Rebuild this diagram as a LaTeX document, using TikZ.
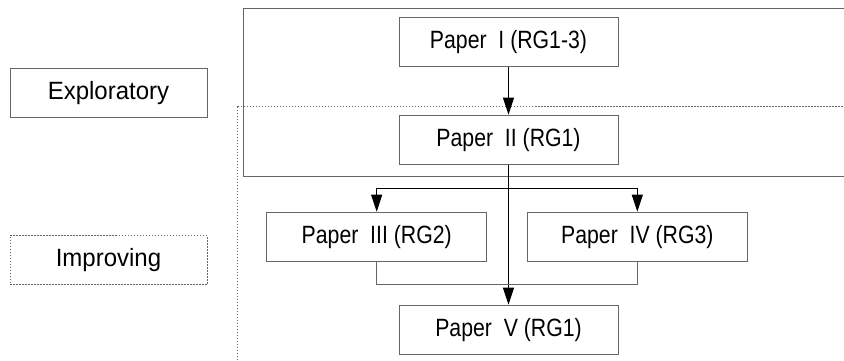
\documentclass[tikz,border=0pt]{standalone}
\usepackage{fontspec}
\setmainfont{Liberation Sans}
\newfontfamily\paperfont[FakeStretch=0.85]{Liberation Sans}
\newfontfamily\phasefont[FakeStretch=0.96]{Liberation Sans}
\usetikzlibrary{positioning,arrows.meta}

\tikzset{
  paper/.style={draw=black!60, line width=1pt, minimum width=219pt, minimum height=49pt, inner sep=0pt, font=\paperfont\fontsize{25}{30}\selectfont},
  phase/.style={draw=black!60, line width=1pt, minimum width=197pt, minimum height=49pt, inner sep=0pt, font=\phasefont\fontsize{25}{30}\selectfont},
  dots/.style={dash pattern=on 1.5pt off 1.5pt},
  link/.style={line width=1pt, -{Triangle[length=17pt,width=11pt]}},
  frameline/.style={line width=1pt, black!60},
}

\begin{document}
\begin{tikzpicture}[x=1pt,y=-1pt]
\useasboundingbox (0,0) rectangle (844,361);
\clip (0,0) rectangle (844,361);
% group frames, cut at the right edge
\draw[frameline] (243.5,9) rectangle (870,176.5);
\draw[frameline, dots] (237.5,106.5) rectangle (870,390);

% phases
\node[phase] (explo) at (108.5,93) {Exploratory};
\node[phase, dots] (impro) at (108.5,260) {Improving};

% papers
\node[paper] (p1) at (508.5,42.5) {Paper\ \ I (RG1-3)};
\node[paper] (p2) at (508.5,139.7) {Paper\ \ II (RG1)};
\node[paper, minimum width=220pt] (p3) at (376.7,236.7) {Paper\ \ III (RG2)};
\node[paper, minimum width=220pt] (p4) at (637.3,236.7) {Paper\ \ IV (RG3)};
\node[paper] (p5) at (508.5,329.7) {Paper\ \ V (RG1)};

\draw[link] (p1) -- (p2);
\draw[link] (p2) -- (p5);
\draw[link] ([yshift=-24pt]p2.south) -| (p3.north);
\draw[link] ([yshift=-24pt]p2.south) -| (p4.north);
\draw[frameline] (p3.south) |- ([yshift=-22.3pt]p3.south) -| (p4.south);
\end{tikzpicture}
\end{document}
